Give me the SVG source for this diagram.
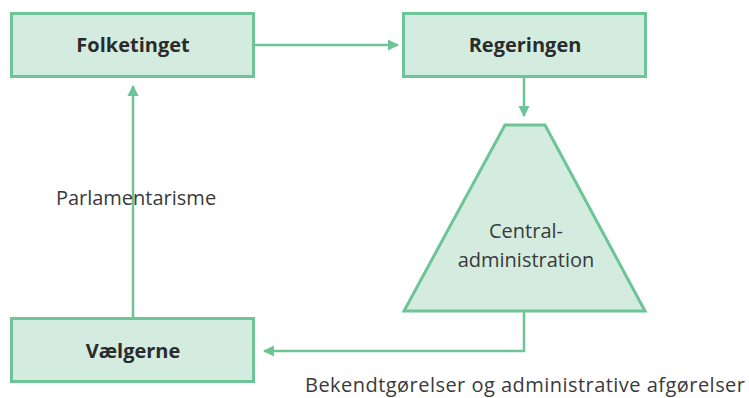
<svg xmlns="http://www.w3.org/2000/svg" width="749" height="398" viewBox="0 0 749 398">
<style>
.node{fill:#d3ecdf;stroke:#6cc497;stroke-width:3}
.title{font-family:"Open Sans","Liberation Sans",sans-serif;font-weight:bold;font-size:20px;fill:#2b2b2b;text-anchor:middle}
.lbl{font-family:"Open Sans","Liberation Sans",sans-serif;font-size:20px;fill:#3a3a3a}
.conn{fill:none;stroke:#6cc497;stroke-width:2.5}
</style>
<defs>
<marker id="ah" viewBox="0 0 10 10" refX="9" refY="5" markerWidth="4.5" markerHeight="4.5" orient="auto" markerUnits="strokeWidth">
<path d="M0,0 L10,5 L0,10 Z" fill="#6cc497"/>
</marker>
</defs>
<g id="connectors">
<path class="conn" d="M254,45 H398" marker-end="url(#ah)"/>
<path class="conn" d="M524,77 V116" marker-end="url(#ah)"/>
<path class="conn" d="M524,312 V351 H264" marker-end="url(#ah)"/>
<path class="conn" d="M133,318 V86" marker-end="url(#ah)"/>
</g>
<g id="folketinget">
<rect class="node" x="11.5" y="13.5" width="242" height="63"/>
<text class="title" x="133" y="52">Folketinget</text>
</g>
<g id="regeringen">
<rect class="node" x="403.5" y="13.5" width="242" height="63"/>
<text class="title" x="525" y="52">Regeringen</text>
</g>
<g id="centraladministration">
<polygon class="node" points="505,125 545,125 645,311 404,311"/>
<text class="lbl" text-anchor="middle" x="526" y="238">Central-</text>
<text class="lbl" text-anchor="middle" x="526" y="267">administration</text>
</g>
<g id="vaelgerne">
<rect class="node" x="11.5" y="318.5" width="242" height="63"/>
<text class="title" x="133" y="358">Vælgerne</text>
</g>
<text class="lbl" text-anchor="middle" x="136" y="205">Parlamentarisme</text>
<text class="lbl" x="305" y="392" textLength="440">Bekendtgørelser og administrative afgørelser</text>
</svg>
